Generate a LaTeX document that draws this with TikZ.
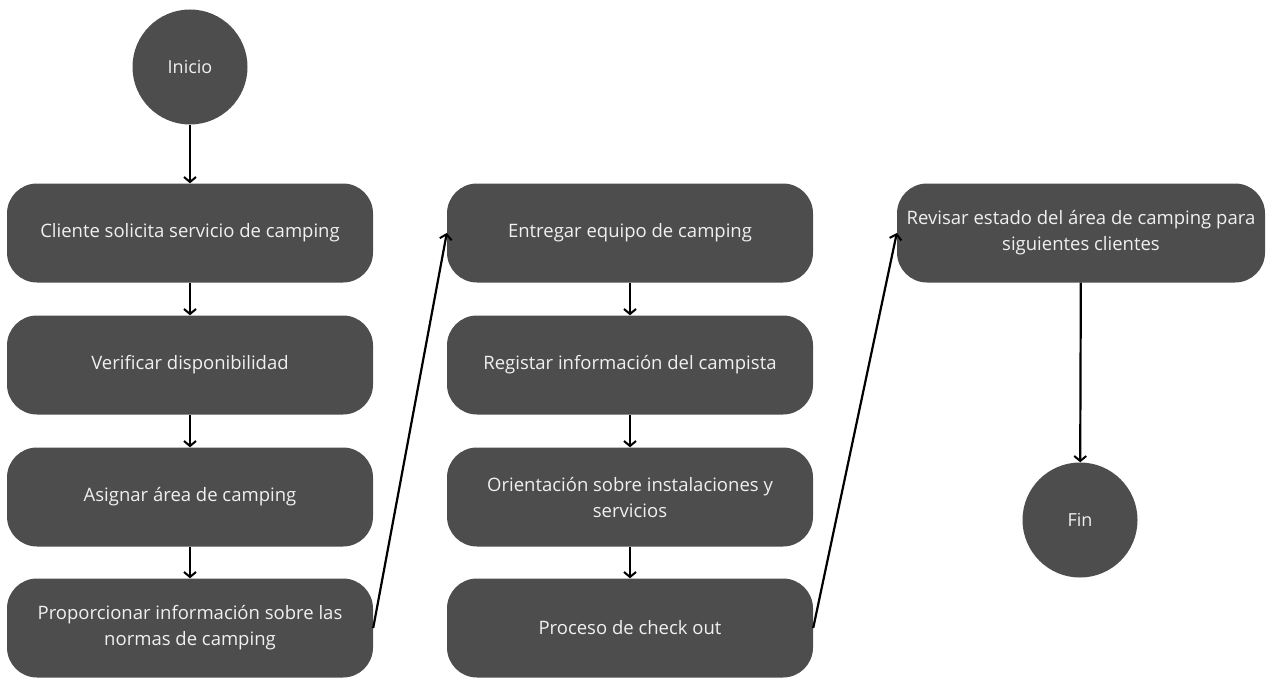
\documentclass[tikz,border=0pt]{standalone}
\usepackage{fontspec}
\setmainfont{Open Sans}
\usetikzlibrary{arrows.meta}
\definecolor{boxgray}{HTML}{4D4D4D}
\definecolor{txtgray}{HTML}{F0F0F0}
\tikzset{
  stepbox/.style={draw=none, fill=boxgray, rounded corners=30pt, minimum width=366pt, minimum height=99pt, text=txtgray, font=\fontsize{18.5}{26}\selectfont, align=center, inner sep=0pt},
  termnode/.style={circle, fill=boxgray, minimum size=115pt, text=txtgray, font=\fontsize{18}{22}\selectfont, inner sep=0pt},
  flow/.style={draw=black, line width=2.2pt, -{Straight Barb[length=5pt,width=12pt,line width=2pt]}}
}
\begin{document}
\begin{tikzpicture}[x=1pt,y=-1pt]
\useasboundingbox (0,0) rectangle (1268,677);
\node[termnode] (ini) at (190,67) {Inicio};
\node[stepbox] (a1) at (190,233) {Cliente solicita servicio de camping};
\node[stepbox] (a2) at (190,365) {Verificar disponibilidad};
\node[stepbox] (a3) at (190,497) {Asignar área de camping};
\node[stepbox] (a4) at (190,628) {Proporcionar información sobre las\\normas de camping};
\node[stepbox] (b1) at (630,233) {Entregar equipo de camping};
\node[stepbox] (b2) at (630,365) {Registar información del campista};
\node[stepbox] (b3) at (630,497) {Orientación sobre instalaciones y\\servicios};
\node[stepbox] (b4) at (630,628) {Proceso de check out};
\node[stepbox, minimum width=368pt] (c1) at (1081,233) {Revisar estado del área de camping para\\siguientes clientes};
\node[termnode] (fin) at (1080,520) {Fin};
\draw[flow] (ini) -- (a1);
\draw[flow] (a1) -- (a2);
\draw[flow] (a2) -- (a3);
\draw[flow] (a3) -- (a4);
\draw[flow] (a4.east) -- (b1.west);
\draw[flow] (b1) -- (b2);
\draw[flow] (b2) -- (b3);
\draw[flow] (b3) -- (b4);
\draw[flow] (b4.east) -- (c1.west);
\draw[flow] (c1) -- (fin);
\end{tikzpicture}
\end{document}
